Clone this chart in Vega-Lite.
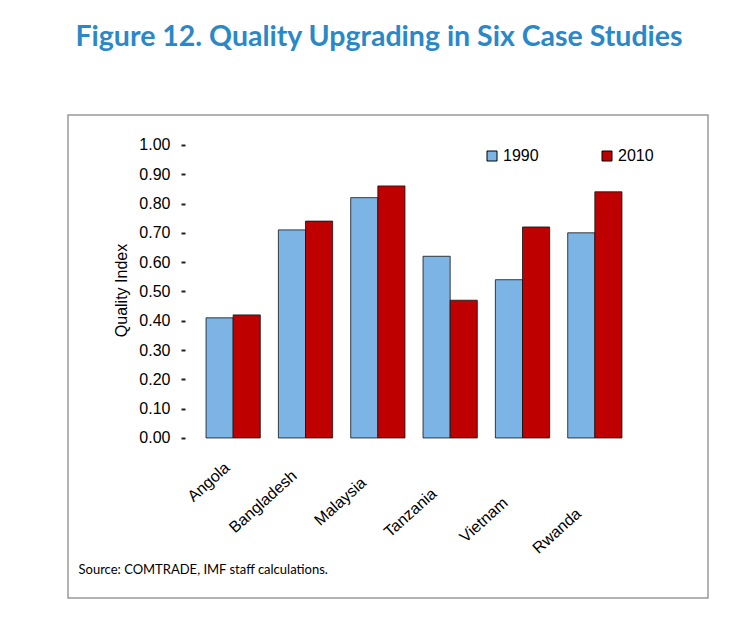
{
  "$schema": "https://vega.github.io/schema/vega-lite/v6.json",
  "autosize": "none",
  "width": 640,
  "height": 483,
  "padding": {"left": 68, "top": 115, "right": 30, "bottom": 38},
  "background": "white",
  "title": {
    "text": "Figure 12. Quality Upgrading in Six Case Studies",
    "font": "Lato",
    "fontSize": 28.5,
    "fontWeight": "bold",
    "color": "#2A88C8",
    "anchor": "middle",
    "dx": -9,
    "offset": 64
  },
  "data": {
    "values": [
      {"country": "Angola", "year": "1990", "value": 0.41},
      {"country": "Angola", "year": "2010", "value": 0.42},
      {"country": "Bangladesh", "year": "1990", "value": 0.71},
      {"country": "Bangladesh", "year": "2010", "value": 0.74},
      {"country": "Malaysia", "year": "1990", "value": 0.82},
      {"country": "Malaysia", "year": "2010", "value": 0.86},
      {"country": "Tanzania", "year": "1990", "value": 0.62},
      {"country": "Tanzania", "year": "2010", "value": 0.47},
      {"country": "Vietnam", "year": "1990", "value": 0.54},
      {"country": "Vietnam", "year": "2010", "value": 0.72},
      {"country": "Rwanda", "year": "1990", "value": 0.70},
      {"country": "Rwanda", "year": "2010", "value": 0.84}
    ]
  },
  "mark": {"type": "bar", "stroke": "#111111", "strokeWidth": 0.8},
  "encoding": {
    "x": {
      "field": "country",
      "type": "nominal",
      "sort": ["Angola", "Bangladesh", "Malaysia", "Tanzania", "Vietnam", "Rwanda"],
      "scale": {"range": [129, 563], "paddingInner": 0.25, "paddingOuter": 0.125},
      "axis": {
        "orient": "bottom",
        "offset": -153,
        "domain": false,
        "ticks": false,
        "labelAngle": -42,
        "labelAlign": "right",
        "labelBaseline": "middle",
        "labelFont": "Liberation Sans",
        "labelFontSize": 16,
        "labelColor": "#000000",
        "labelOffset": {
          "condition": [
            {"test": "datum.value == 'Angola'", "value": -6},
            {"test": "datum.value == 'Bangladesh'", "value": -11},
            {"test": "datum.value == 'Malaysia'", "value": -14},
            {"test": "datum.value == 'Tanzania'", "value": -16},
            {"test": "datum.value == 'Vietnam'", "value": -17}
          ],
          "value": -16
        },
        "labelPadding": {
          "condition": [
            {"test": "datum.value == 'Angola'", "value": 20},
            {"test": "datum.value == 'Bangladesh'", "value": 28},
            {"test": "datum.value == 'Malaysia'", "value": 35},
            {"test": "datum.value == 'Tanzania'", "value": 46},
            {"test": "datum.value == 'Vietnam'", "value": 55}
          ],
          "value": 66
        },
        "title": "Source: COMTRADE, IMF staff calculations.",
        "titleFont": "Lato",
        "titleFontSize": 13,
        "titleFontWeight": "normal",
        "titleColor": "#000000",
        "titleAlign": "left",
        "titleAnchor": "start",
        "titleBaseline": "alphabetic",
        "titleX": 10,
        "titleY": 128
      }
    },
    "xOffset": {"field": "year", "type": "nominal"},
    "y": {
      "field": "value",
      "type": "quantitative",
      "scale": {"domain": [-0.546, 1.102], "nice": false, "zero": false},
      "axis": {
        "offset": -117,
        "domain": false,
        "grid": false,
        "ticks": true,
        "tickSize": 4,
        "tickWidth": 2,
        "tickColor": "#222222",
        "values": [0, 0.1, 0.2, 0.3, 0.4, 0.5, 0.6, 0.7, 0.8, 0.9, 1.0],
        "format": ".2f",
        "labelFont": "Liberation Sans",
        "labelFontSize": 16,
        "labelColor": "#000000",
        "labelPadding": 11,
        "title": "Quality Index",
        "titleFont": "Liberation Sans",
        "titleFontSize": 16,
        "titleFontWeight": "normal",
        "titleColor": "#000000",
        "titleX": -56,
        "titleY": 175
      }
    },
    "y2": {"datum": 0},
    "color": {
      "field": "year",
      "type": "nominal",
      "scale": {"domain": ["1990", "2010"], "range": ["#7DB4E6", "#BE0000"]},
      "legend": {
        "title": null,
        "orient": "none",
        "legendX": 416,
        "legendY": 33,
        "direction": "horizontal",
        "symbolType": "square",
        "symbolSize": 100,
        "symbolStrokeColor": "#000000",
        "symbolStrokeWidth": 1,
        "labelFont": "Liberation Sans",
        "labelFontSize": 16,
        "labelColor": "#000000",
        "labelOffset": 3,
        "columnPadding": 60
      }
    }
  },
  "config": {
    "view": {"stroke": "#999999", "strokeWidth": 1.5}
  }
}
